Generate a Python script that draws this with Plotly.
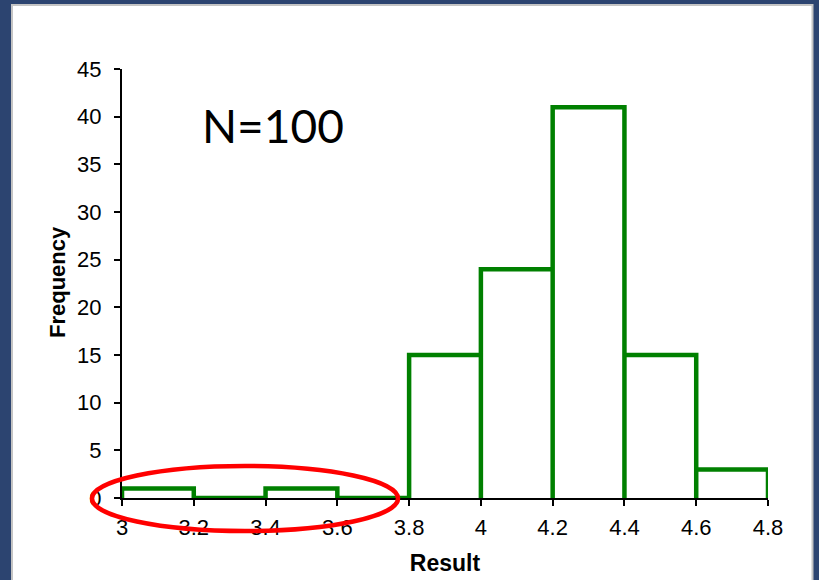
import plotly.graph_objects as go

bin_edges = [3.0, 3.2, 3.4, 3.6, 3.8, 4.0, 4.2, 4.4, 4.6, 4.8]
frequencies = [1, 0, 1, 0, 15, 24, 41, 15, 3]
x_ticks = [3, 3.2, 3.4, 3.6, 3.8, 4, 4.2, 4.4, 4.6, 4.8]
x_tick_labels = ["3", "3.2", "3.4", "3.6", "3.8", "4", "4.2", "4.4", "4.6", "4.8"]
y_ticks = [0, 5, 10, 15, 20, 25, 30, 35, 40, 45]
label_text = "N=100"
x_title = "Result"
y_title = "Frequency"

# step outline of the histogram
xs, ys = [], []
for i, h in enumerate(frequencies):
    a, b = bin_edges[i], bin_edges[i + 1]
    xs += [a, a, b, b]
    ys += [0, h, h, 0]

W, H = 819, 580
L, R, T, B = 122, 51, 69, 82
pw, ph = W - L - R, H - T - B


def px(x):
    return (x - L) / pw


def py(y):
    return (H - B - y) / ph


fig = go.Figure()
fig.add_trace(go.Scatter(x=xs, y=ys, mode="lines",
                         line=dict(color="#008000", width=4.5),
                         cliponaxis=False, hoverinfo="skip"))

shapes = [
    dict(type="rect", xref="paper", yref="paper", layer="below",
         x0=px(12), x1=px(812.5), y0=py(5), y1=py(600),
         fillcolor="white", line=dict(color="#c4c4c4", width=2)),
    dict(type="circle", xref="paper", yref="paper", layer="above",
         x0=px(92), x1=px(398), y0=py(531), y1=py(466),
         line=dict(color="#ff0000", width=4.5)),
]

fig.update_layout(
    width=W, height=H,
    margin=dict(l=L, r=R, t=T, b=B, autoexpand=False),
    paper_bgcolor="#2c4470",
    plot_bgcolor="rgba(0,0,0,0)",
    showlegend=False,
    shapes=shapes,
    font=dict(family="Liberation Sans, Arial", color="black", size=22),
    xaxis=dict(range=[3, 4.8], tickvals=x_ticks, ticktext=x_tick_labels,
               showgrid=False, zeroline=False, showline=True,
               linecolor="black", linewidth=2, ticks="outside",
               ticklen=6, tickwidth=2, tickcolor="black",
               tickfont=dict(size=22), ticklabelstandoff=3,
               title=dict(text="<b>" + x_title + "</b>", font=dict(size=23), standoff=15)),
    yaxis=dict(range=[0, 45], tickvals=y_ticks,
               showgrid=False, zeroline=False, showline=True,
               linecolor="black", linewidth=2, ticks="outside",
               ticklen=6, tickwidth=2, tickcolor="black",
               tickfont=dict(size=22), ticklabelstandoff=8),
    annotations=[
        dict(text=label_text, xref="paper", yref="paper",
             x=px(273), y=py(125), xanchor="center", yanchor="middle",
             showarrow=False,
             font=dict(family="Lato, Liberation Sans", size=46, color="black")),
        dict(text="<b>" + y_title + "</b>", xref="paper", yref="paper",
             x=px(57), y=py(282), xanchor="center", yanchor="middle",
             textangle=-90, showarrow=False,
             font=dict(family="Liberation Sans, Arial", size=22, color="black")),
    ],
)

fig.write_html("out.html")
